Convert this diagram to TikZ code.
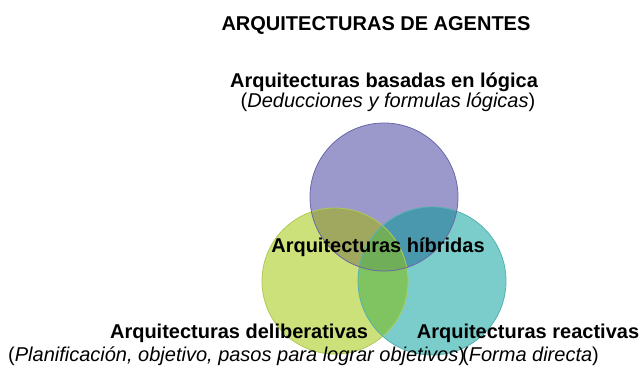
\documentclass[tikz,border=0pt]{standalone}
\usepackage{fontspec}
\setmainfont{Liberation Sans}
\definecolor{cP}{HTML}{9B98CC}
\definecolor{cG}{HTML}{CCE17A}
\definecolor{cT}{HTML}{7BCDCB}
\definecolor{cPG}{HTML}{A0A85F}
\definecolor{cPT}{HTML}{4A98AE}
\definecolor{cGT}{HTML}{80C462}
\definecolor{cPGT}{HTML}{70AE5A}
\definecolor{bP}{HTML}{6A68A8}
\definecolor{bG}{HTML}{AECB55}
\definecolor{bT}{HTML}{52B3B1}
\begin{document}
\begin{tikzpicture}[x=1pt,y=-1pt,
  lbl/.style={inner sep=0pt, anchor=base, font=\bfseries\fontsize{20}{24}\selectfont},
  sub/.style={inner sep=0pt, font=\fontsize{20}{24}\selectfont},
  ring/.style={line width=0.8pt}]
\useasboundingbox (0,0) rectangle (640,367);
\coordinate (P) at (384,197);
\coordinate (G) at (335,281);
\coordinate (T) at (432,281);
% base fills
\fill[cG] (G) circle (73pt);
\fill[cT] (T) circle (74pt);
\fill[cP] (P) circle (74pt);
% overlaps
\begin{scope}\clip (P) circle (74pt); \fill[cPG] (G) circle (73pt); \end{scope}
\begin{scope}\clip (P) circle (74pt); \fill[cPT] (T) circle (74pt); \end{scope}
\begin{scope}\clip (G) circle (73pt); \fill[cGT] (T) circle (74pt); \end{scope}
\begin{scope}\clip (P) circle (74pt); \clip (G) circle (73pt); \fill[cPGT] (T) circle (74pt); \end{scope}
% borders
\draw[ring, bG] (G) circle (73pt);
\draw[ring, bT] (T) circle (74pt);
\draw[ring, bP] (P) circle (74pt);
% texts
\node[lbl] (title) at (376,30) {ARQUITECTURAS DE AGENTES};
\node[lbl] (logica) at (384,87) {Arquitecturas basadas en lógica};
\node[sub, anchor=base] (logicasub) at (388,107) {(\textit{Deducciones y formulas lógicas})};
\node[lbl] (hibridas) at (378,252) {Arquitecturas híbridas};
\node[lbl] (delib) at (239,338) {Arquitecturas deliberativas};
\node[sub, anchor=base west] (delibsub) at (8,361) {(\textit{Planificación, objetivo, pasos para lograr objetivos})};
\node[lbl] (reac) at (528,338) {Arquitecturas reactivas};
\node[sub, anchor=base west] (reacsub) at (462,361) {(\textit{Forma directa})};
\end{tikzpicture}
\end{document}
